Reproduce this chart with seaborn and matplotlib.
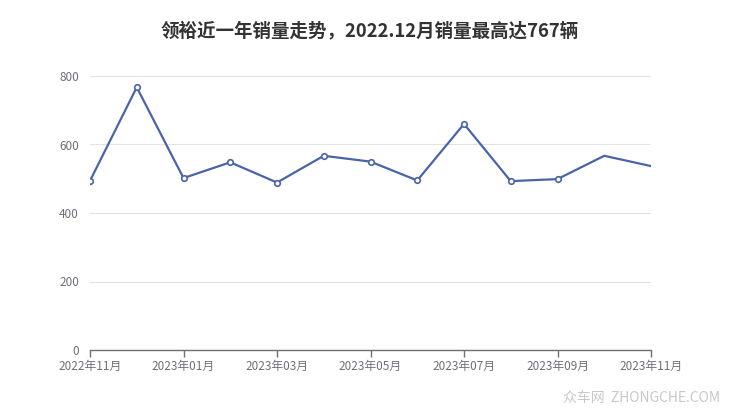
import pandas as pd
import numpy as np
import matplotlib
matplotlib.use('Agg')
import matplotlib.pyplot as plt
import seaborn as sns

# monthly sales, 2022-11 .. 2023-11 (category axis, evenly spaced)
months = ["2022年11月", "2022年12月", "2023年01月", "2023年02月", "2023年03月", "2023年04月", "2023年05月",
          "2023年06月", "2023年07月", "2023年08月", "2023年09月", "2023年10月", "2023年11月"]
sales = [494, 767, 502, 548, 489, 567, 550, 495, 660, 493, 499, 567, 537]
yticks = [0, 200, 400, 600, 800]

df = pd.DataFrame({"pos": np.arange(len(months)), "month": months, "sales": sales})

sns.set_style("white")
plt.rcParams['font.family'] = ['Noto Sans CJK SC', 'DejaVu Sans']

fig = plt.figure(figsize=(7.4, 4.17), dpi=100)
ax = fig.add_axes([90 / 740, 1 - 350 / 417, (651 - 90) / 740, (350 - 76) / 417])

line_color = "#4a64a9"
sns.lineplot(data=df, x="pos", y="sales", ax=ax, color=line_color, linewidth=1.6)
# markers (the last two points have none in the source)
mk = df.iloc[:11]
ax.plot(mk["pos"], mk["sales"], linestyle="none", marker="o", markersize=4,
        markerfacecolor="white", markeredgecolor=line_color, markeredgewidth=1.2, zorder=5)

ax.set_xlim(0, len(months) - 1)
ax.set_ylim(0, 800)
ax.set_yticks(yticks)
ax.set_xticks(df["pos"][::2])
ax.set_xticklabels(df["month"][::2])
ax.set_xlabel("")
ax.set_ylabel("")

ax.grid(axis="y", color="#e3e3e3", linewidth=0.8)
ax.grid(axis="x", visible=False)
for s in ["top", "right", "left"]:
    ax.spines[s].set_visible(False)
ax.spines["bottom"].set_color("#6e7079")
ax.spines["bottom"].set_linewidth(1)
ax.tick_params(axis="y", length=0, pad=8, labelsize=8.5, labelcolor="#6e7079")
ax.tick_params(axis="x", length=5, width=1, color="#6e7079", pad=2, labelsize=8.5, labelcolor="#6e7079",
               bottom=True, direction="out")

fig.text(0.5, 1 - 31 / 417, "领裕近一年销量走势，2022.12月销量最高达767辆", ha="center", va="center",
         fontsize=13.3, fontweight="bold", color="#333333")
fig.text(720 / 740, 1 - 398 / 417, "众车网  ZHONGCHE.COM", ha="right", va="center",
         fontsize=10, color="#c8c8c8")

fig.savefig("out.png", dpi=100)
